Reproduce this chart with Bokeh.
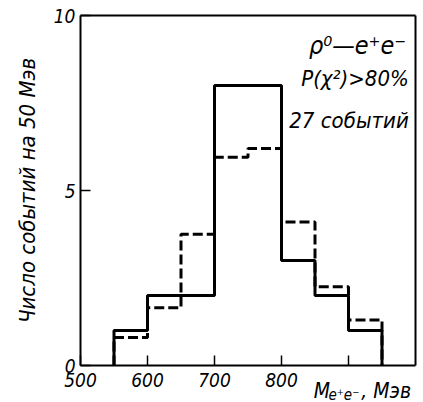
from bokeh.plotting import figure
from bokeh.models import Range1d, FixedTicker, Label, LinearAxis
from bokeh.embed import file_html
from bokeh.resources import INLINE

# ---- data ----
bin_edges = [550, 600, 650, 700, 750, 800, 850, 900, 950]
observed = [1, 2, 2, 8, 8, 3, 2, 1]            # solid histogram (27 events)
expected = [0.8, 1.65, 3.75, 5.95, 6.2, 4.1, 2.25, 1.3]  # dashed histogram
x_ticks = [500, 600, 700, 800, 900]
x_tick_labels = {500: "500", 600: "600", 700: "700", 800: "800", 900: ""}
y_ticks = [0, 5, 10]

FONT = "DejaVu Sans Condensed"
X_MIN, X_MAX = 500, 1000
Y_MIN, Y_MAX = 0, 10
PX_PER_UNIT = 35.0          # vertical scale of the box
PX_PER_MEV = 0.67           # horizontal scale of the box
LEFT_PX, RIGHT_PX, TOP_PX, BOTTOM_PX = 80.0, 8.0, 15.0, 37.0   # room around the box


def step_outline(edges, vals):
    xs, ys = [edges[0]], [0]
    for i, v in enumerate(vals):
        xs += [edges[i], edges[i + 1]]
        ys += [v, v]
    xs.append(edges[-1])
    ys.append(0)
    return xs, ys


p = figure(width=423, height=402, output_backend="svg", toolbar_location=None,
           x_range=Range1d(X_MIN - LEFT_PX / PX_PER_MEV, X_MAX + RIGHT_PX / PX_PER_MEV),
           y_range=Range1d(Y_MIN - BOTTOM_PX / PX_PER_UNIT, Y_MAX + TOP_PX / PX_PER_UNIT),
           min_border=0)
p.grid.visible = False
p.outline_line_color = None
p.background_fill_color = "white"
p.border_fill_color = "white"

sx, sy = step_outline(bin_edges, observed)
p.line(sx, sy, line_color="black", line_width=3)
dx, dy = step_outline(bin_edges, expected)
p.line(dx, dy, line_color="black", line_width=3, line_dash="10 4")

for ax in (p.xaxis[0], p.yaxis[0]):
    ax.axis_line_width = 2
    ax.axis_line_color = "black"
    ax.major_tick_in = 10
    ax.major_tick_out = 0
    ax.major_tick_line_width = 1.5
    ax.minor_tick_line_color = None
    ax.major_label_text_font = FONT
    ax.major_label_text_font_style = "italic"
    ax.major_label_text_font_size = "19px"
    ax.major_label_text_color = "black"

p.xaxis.fixed_location = Y_MIN
p.xaxis.bounds = (X_MIN, X_MAX)
p.xaxis.ticker = FixedTicker(ticks=x_ticks)
p.xaxis.major_label_overrides = x_tick_labels
p.xaxis.major_label_standoff = 7

p.yaxis.fixed_location = X_MIN
p.yaxis.bounds = (Y_MIN, Y_MAX)
p.yaxis.ticker = FixedTicker(ticks=y_ticks)
p.yaxis.major_label_standoff = 5
p.yaxis.axis_label = "Число событий на 50 Мэв"
p.yaxis.axis_label_text_font = FONT
p.yaxis.axis_label_text_font_style = "italic"
p.yaxis.axis_label_text_font_size = "22px"
p.yaxis.axis_label_text_color = "black"
p.yaxis.axis_label_standoff = 11

# top and right sides of the box
top_ax = LinearAxis(ticker=FixedTicker(ticks=[]), axis_line_width=2,
                    fixed_location=Y_MAX, bounds=(X_MIN, X_MAX),
                    major_tick_line_color=None, minor_tick_line_color=None,
                    major_label_text_color=None)
p.add_layout(top_ax, "above")
right_ax = LinearAxis(ticker=FixedTicker(ticks=[]), axis_line_width=2,
                      fixed_location=X_MAX, bounds=(Y_MIN, Y_MAX),
                      major_tick_line_color=None, minor_tick_line_color=None,
                      major_label_text_color=None)
p.add_layout(right_ax, "right")

# x-axis title M_{e+e-}, Мэв placed next to the last tick
common = dict(text_font=FONT, text_font_style="italic", text_color="black")
p.add_layout(Label(x=848, y=0, y_offset=-25, text="M", text_font_size="21px",
                   text_baseline="alphabetic", **common))
p.add_layout(Label(x=870, y=0, y_offset=-29, text="e⁺e⁻", text_font_size="15px",
                   text_baseline="alphabetic", **common))
p.add_layout(Label(x=919, y=0, y_offset=-25, text=", Мэв", text_font_size="21px",
                   text_baseline="alphabetic", **common))

# annotations in top-right corner
p.add_layout(Label(x=986, y=9.15, text="ρ⁰—e⁺e⁻", text_font_size="25px",
                   text_align="right", text_baseline="alphabetic", **common))
p.add_layout(Label(x=990, y=8.2, text="P(χ²)>80%", text_font_size="22px",
                   text_align="right", text_baseline="alphabetic", **common))
p.add_layout(Label(x=990, y=7.0, text="27 событий", text_font_size="22px",
                   text_align="right", text_baseline="alphabetic", **common))

open("out.html", "w").write(file_html(p, INLINE))
